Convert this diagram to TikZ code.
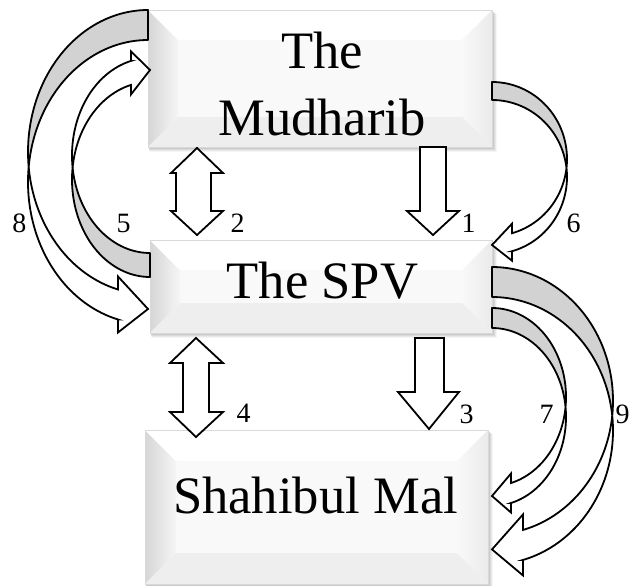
\documentclass[tikz,border=0pt]{standalone}
\usepackage{fontspec}
\setmainfont{Liberation Serif}
\tikzset{
  blk/.style={draw=black, fill=white, line width=1.8pt, line join=miter},
  backband/.style={draw=black, fill=gray!35, line width=1.8pt, line join=round},
  frontband/.style={draw=black, fill=white, line width=1.8pt, line join=miter},
  bvface/.style={fill=gray!5},
  boxtext/.style={font=\fontsize{52.6}{67}\selectfont, inner sep=0pt, align=center},
  numlbl/.style={font=\fontsize{28}{30}\selectfont, inner sep=0pt, anchor=base},
}
% bevelled box: x1 y1 x2 y2 inset
\newcommand{\bevelbox}[5]{%
  \pgfmathsetmacro{\bxL}{#1+#5}\pgfmathsetmacro{\bxR}{#3-#5}%
  \pgfmathsetmacro{\byT}{#2+#5}\pgfmathsetmacro{\byB}{#4-#5}%
  \foreach \o/\op in {5/0.04,4/0.05,3/0.06,2/0.07,1/0.08}{%
    \fill[black,opacity=\op] (#1+\o*0.3,#2+\o*0.8) rectangle (#3+\o,#4+\o);}
  \fill[bvface] (#1,#2) rectangle (#3,#4);
  \shade[left color=gray!32, right color=gray!8] (#1,#2) -- (\bxL,\byT) -- (\bxL,\byB) -- (#1,#4) -- cycle;
  \fill[white] (#1,#2) -- (#3,#2) -- (\bxR,\byT) -- (\bxL,\byT) -- cycle;
  \shade[left color=gray!5, right color=gray!16] (#3,#2) -- (#3,#4) -- (\bxR,\byB) -- (\bxR,\byT) -- cycle;
  \fill[gray!13] (#1,#4) -- (\bxL,\byB) -- (\bxR,\byB) -- (#3,#4) -- cycle;
  \draw[gray!30, line width=0.6pt] (#1,#2) rectangle (#3,#4);
}
% curved block arrow in local frame: flat end top at (0,0)-(0,th), bulging to x=-w
\newcommand{\curvedblock}[5]{% th, w, hR, ah, aw
  \pgfmathsetmacro{\cTh}{#1}%
  \pgfmathsetmacro{\cW}{#2}%
  \pgfmathsetmacro{\cR}{#3}%
  \pgfmathsetmacro{\cAh}{#4}%
  \pgfmathsetmacro{\cAw}{#5}%
  \pgfmathsetmacro{\cS}{asin(\cTh/(2*\cR))}%
  \pgfmathsetmacro{\cA}{180-\cS}%
  \pgfmathsetmacro{\cB}{180+\cS}%
  \pgfmathsetmacro{\cF}{acos(-\cAh/\cW)}%
  \pgfmathsetmacro{\cYa}{\cR+\cR*sin(\cF)}%
  \pgfmathsetmacro{\cYb}{\cYa+\cTh}%
  \pgfmathsetmacro{\cDh}{(\cAw-\cTh)/2}%
  \pgfmathsetmacro{\cTip}{2*\cR+\cTh/2}%
  \filldraw[backband] plot[domain=270:\cA, samples=50, variable=\q] ({\cW*cos(\q)},{\cR+\cR*sin(\q)})
     -- plot[domain=\cB:270, samples=50, variable=\q] ({\cW*cos(\q)},{\cR+\cTh+\cR*sin(\q)}) -- cycle;
  \filldraw[frontband] plot[domain=\cA:\cF, samples=50, variable=\q] ({\cW*cos(\q)},{\cR+\cR*sin(\q)})
     -- (-\cAh,\cYa-\cDh) -- (0,\cTip) -- (-\cAh,\cYb+\cDh) -- (-\cAh,\cYb)
     -- plot[domain=\cF:\cB, samples=50, variable=\q] ({\cW*cos(\q)},{\cR+\cTh+\cR*sin(\q)}) -- cycle;
}
\begin{document}
\begin{tikzpicture}[x=1pt,y=-1pt]
\useasboundingbox (0,0) rectangle (629,586);
\fill[white] (0,0) rectangle (629,586);

% boxes
\bevelbox{148}{10}{492}{147}{30}
\bevelbox{150}{240}{492}{333}{30}
\bevelbox{145}{430}{488}{584}{31}

\node[boxtext, anchor=base] (mud) at (322,135) {The\\Mudharib};
\node[boxtext, anchor=base] (spv) at (322.5,298) {The SPV};
\node[boxtext, anchor=base] (sm) at (315.5,513) {Shahibul Mal};

% straight block arrows
\draw[blk] (420,147) -- (446,147) -- (446,211) -- (459,211) -- (433,235) -- (407,211) -- (420,211) -- cycle;
\draw[blk] (415,338) -- (444,338) -- (444,392) -- (459,392) -- (429,429) -- (398,392) -- (415,392) -- cycle;
\draw[blk] (197,148) -- (223,173) -- (211,173) -- (211,211) -- (223,211) -- (197,235) -- (171,211) -- (176,211) -- (176,173) -- (171,173) -- cycle;
\draw[blk] (196,338) -- (223,363) -- (209,363) -- (209,412) -- (223,412) -- (196,437) -- (170,412) -- (183,412) -- (183,363) -- (170,363) -- cycle;

% curved block arrows
\begin{scope}[shift={(492,267)}, xscale=-1]\curvedblock{30}{121}{133.7}{31}{61}\end{scope}
\begin{scope}[shift={(492,308)}, xscale=-1]\curvedblock{20}{74}{89}{19}{39}\end{scope}
\begin{scope}[shift={(148,10)}]\curvedblock{30}{120}{142}{30}{56}\end{scope}
\begin{scope}[shift={(150,277)}, yscale=-1]\curvedblock{24}{78}{97.5}{19}{43}\end{scope}
\begin{scope}[shift={(492,82)}, xscale=-1]\curvedblock{18}{75}{77}{20}{37}\end{scope}

% number labels
\node[numlbl] (n8) at (19.5,232) {8};
\node[numlbl] (n5) at (123.5,232) {5};
\node[numlbl] (n2) at (237.5,232) {2};
\node[numlbl] (n1) at (468.5,232) {1};
\node[numlbl] (n6) at (573.5,232) {6};
\node[numlbl] (n4) at (243.5,422) {4};
\node[numlbl] (n3) at (466.5,423) {3};
\node[numlbl] (n7) at (546.5,423) {7};
\node[numlbl] (n9) at (622.5,423) {9};
\end{tikzpicture}
\end{document}
